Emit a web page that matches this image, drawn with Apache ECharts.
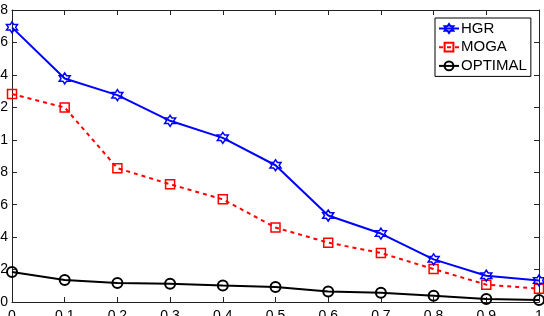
<!DOCTYPE html>
<html>
<head>
<meta charset="utf-8">
<script src="https://cdn.jsdelivr.net/npm/echarts@6/dist/echarts.min.js"></script>
<style>
  html, body { margin: 0; padding: 0; background: #fff; }
  #chart { width: 544px; height: 316px; }
</style>
</head>
<body>
<div id="chart"></div>
<script>
// values
var xValues = [0, 0.1, 0.2, 0.3, 0.4, 0.5, 0.6, 0.7, 0.8, 0.9, 1];
var hgr = [1.693, 1.378, 1.275, 1.117, 1.012, 0.843, 0.533, 0.422, 0.263, 0.162, 0.133];
var moga = [1.282, 1.199, 0.825, 0.726, 0.633, 0.459, 0.366, 0.302, 0.203, 0.107, 0.082];
var optimal = [0.185, 0.135, 0.117, 0.113, 0.102, 0.092, 0.065, 0.057, 0.039, 0.018, 0.012];
var seriesNames = ['HGR', 'MOGA', 'OPTIMAL'];

var hexagram = 'path://M10,0L12.885,5L18.66,5L15.77,10L18.66,15L12.885,15L10,20L7.115,15L1.34,15L4.23,10L1.34,5L7.115,5Z';
var font = 'Liberation Sans, Arial, sans-serif';

function pairs(ys) {
  return xValues.map(function (x, i) { return [x, ys[i]]; });
}
function fmt(v) { return String(+v.toFixed(1)); }

var chart = echarts.init(document.getElementById('chart'));

function axisBase(extra) {
  var a = {
    type: 'value',
    axisLine: { show: true, onZero: false, lineStyle: { color: '#222', width: 1 } },
    axisTick: { show: true, inside: true, length: 5, lineStyle: { color: '#222' } },
    splitLine: { show: false }
  };
  for (var k in extra) a[k] = extra[k];
  return a;
}

chart.setOption({
  animation: false,
  backgroundColor: '#fff',
  grid: { left: 12, right: 5, top: 10, bottom: 14, containLabel: false, outerBoundsMode: 'none' },
  legend: {
    data: seriesNames,
    orient: 'vertical',
    left: 435,
    top: 18,
    padding: [3, 4, 3, 3],
    itemWidth: 20,
    itemHeight: 11,
    itemGap: 3.7,
    backgroundColor: '#fff',
    borderColor: '#000',
    borderWidth: 1,
    borderRadius: 0,
    textStyle: { color: '#000', fontFamily: font, fontSize: 15, padding: [0, 0, 0, -3] }
  },
  xAxis: [
    axisBase({
      min: 0, max: 1, interval: 0.1, position: 'bottom',
      axisLabel: { color: '#000', fontFamily: font, fontSize: 14, margin: 7, formatter: fmt }
    }),
    axisBase({
      min: 0, max: 1, interval: 0.1, position: 'top',
      axisLabel: { show: false }
    })
  ],
  yAxis: [
    axisBase({
      min: 0, max: 1.8, interval: 0.2, position: 'left',
      axisLabel: { color: '#000', fontFamily: font, fontSize: 14, margin: 4, formatter: fmt }
    }),
    axisBase({
      min: 0, max: 1.8, interval: 0.2, position: 'right',
      axisLabel: { show: false }
    })
  ],
  series: [
    {
      name: 'HGR', type: 'line', data: pairs(hgr),
      symbol: hexagram, symbolSize: 11,
      lineStyle: { color: '#0000ff', width: 2 },
      itemStyle: { color: 'rgba(255,255,255,0)', borderColor: '#0000ff', borderWidth: 1.5 },
      z: 4
    },
    {
      name: 'MOGA', type: 'line', data: pairs(moga),
      symbol: 'rect', symbolSize: 9,
      lineStyle: { color: '#ff0000', width: 2, type: [4, 4] },
      itemStyle: { color: 'rgba(255,255,255,0)', borderColor: '#ff0000', borderWidth: 1.5 },
      z: 3
    },
    {
      name: 'OPTIMAL', type: 'line', data: pairs(optimal),
      symbol: 'circle', symbolSize: 10,
      lineStyle: { color: '#000', width: 2 },
      itemStyle: { color: 'rgba(255,255,255,0)', borderColor: '#000', borderWidth: 2 },
      z: 2
    }
  ]
});
</script>
</body>
</html>
